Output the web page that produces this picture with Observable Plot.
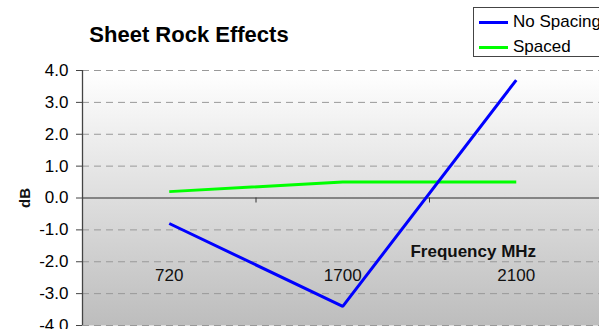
<!DOCTYPE html>
<html>
<head>
<meta charset="utf-8">
<script src="https://cdn.jsdelivr.net/npm/d3@7"></script>
<script src="https://cdn.jsdelivr.net/npm/@observablehq/plot@0.6"></script>
<style>
  html, body { margin: 0; padding: 0; background: #fff; overflow: hidden; }
  #wrap { position: relative; width: 599px; height: 329px; overflow: hidden;
          font-family: Arial, "Liberation Sans", sans-serif; color: #000; }
  #title { position: absolute; left: 0; top: 23px; width: 378px; text-align: center;
           font-weight: bold; font-size: 22px; line-height: 24px; }
  #legend { position: absolute; left: 473px; top: 7px; width: 150px; height: 48px;
            border: 1px solid #444; background: #fff; }
  .row { position: absolute; left: 5px; height: 20px; display: flex; align-items: center;
         font-size: 17px; white-space: nowrap; }
  .swatch { width: 29px; height: 3px; margin-right: 5px; }
  #chart { position: absolute; left: 0; top: 0; }
</style>
</head>
<body>
<div id="wrap">
  <div id="chart"></div>
  <div id="title"></div>
  <div id="legend"></div>
</div>
<script>
// Sheet rock attenuation (dB) at three frequencies
const chartTitle = "Sheet Rock Effects";
const xTitle = "Frequency MHz";
const yTitle = "dB";
const categories = ["720", "1700", "2100"];
const seriesNames = ["No Spacing", "Spaced"];
const seriesColors = ["#0000ff", "#00ff00"];
const noSpacing = [-0.8, -3.4, 3.7];
const spaced = [0.2, 0.5, 0.5];
const yTicks = [-4, -3, -2, -1, 0, 1, 2, 3, 4];

// Categories sit at the centre of equal slots on a linear index scale
const rows = [
  ...spaced.map((v, i) => ({series: "Spaced", pos: i + 0.5, value: v})),
  ...noSpacing.map((v, i) => ({series: "No Spacing", pos: i + 0.5, value: v}))
];
const slotEdges = d3.range(1, categories.length);

const plot = Plot.plot({
  width: 599,
  height: 329,
  marginLeft: 82,
  marginRight: 0,
  marginTop: 70,
  marginBottom: 4,
  style: {fontFamily: "Arial, 'Liberation Sans', sans-serif", background: "transparent", color: "#000"},
  x: {type: "linear", domain: [0, categories.length], range: [82, 602.5], axis: null},
  y: {domain: [-4, 4], range: [325, 70], axis: null},
  color: {domain: seriesNames, range: seriesColors},
  marks: [
    Plot.frame({fill: "url(#plotBg)", stroke: null}),
    Plot.ruleY(yTicks.filter(d => d !== 0), {stroke: "#999", strokeDasharray: "7,5", strokeWidth: 1}),
    Plot.ruleY([0], {stroke: "#666", strokeWidth: 1.5}),
    Plot.ruleX(slotEdges, {y1: 0, y2: 0, insetBottom: -5, stroke: "#333", strokeWidth: 1}),
    Plot.ruleX([0], {stroke: "#444", strokeWidth: 1.3}),
    Plot.axisY(yTicks, {
      anchor: "left", tickSize: 6, tickPadding: 8, stroke: "#444",
      tickFormat: d => d.toFixed(1), fontSize: 17, label: null
    }),
    Plot.text(categories, {x: (d, i) => i + 0.5, frameAnchor: "bottom", lineAnchor: "middle",
      dy: -50, fontSize: 17, fill: "#111"}),
    Plot.text([xTitle], {x: () => categories.length - 0.5, frameAnchor: "bottom", lineAnchor: "middle",
      dx: -43, dy: -74, fontSize: 17, fontWeight: "bold", fill: "#111"}),
    Plot.text([yTitle], {frameAnchor: "left", textAnchor: "middle", lineAnchor: "middle",
      rotate: -90, dx: -57, fontSize: 15, fontWeight: "bold", fill: "#111"}),
    Plot.line(rows, {x: "pos", y: "value", z: "series", stroke: "series", strokeWidth: 3,
      strokeLinecap: "butt", strokeLinejoin: "miter"})
  ]
});

// Vertical grey gradient behind the plotting area
const defs = d3.select(plot).insert("defs", ":first-child");
const grad = defs.append("linearGradient")
  .attr("id", "plotBg").attr("x1", 0).attr("y1", 0).attr("x2", 0).attr("y2", 1);
grad.append("stop").attr("offset", "0%").attr("stop-color", "#ffffff");
grad.append("stop").attr("offset", "100%").attr("stop-color", "#bdbdbd");

document.getElementById("chart").appendChild(plot);
document.getElementById("title").textContent = chartTitle;

// Legend box
const legend = d3.select("#legend");
seriesNames.forEach((name, i) => {
  const row = legend.append("div").attr("class", "row").style("top", (4 + i * 25) + "px");
  row.append("div").attr("class", "swatch").style("background", seriesColors[i]);
  row.append("span").text(name);
});
</script>
</body>
</html>
